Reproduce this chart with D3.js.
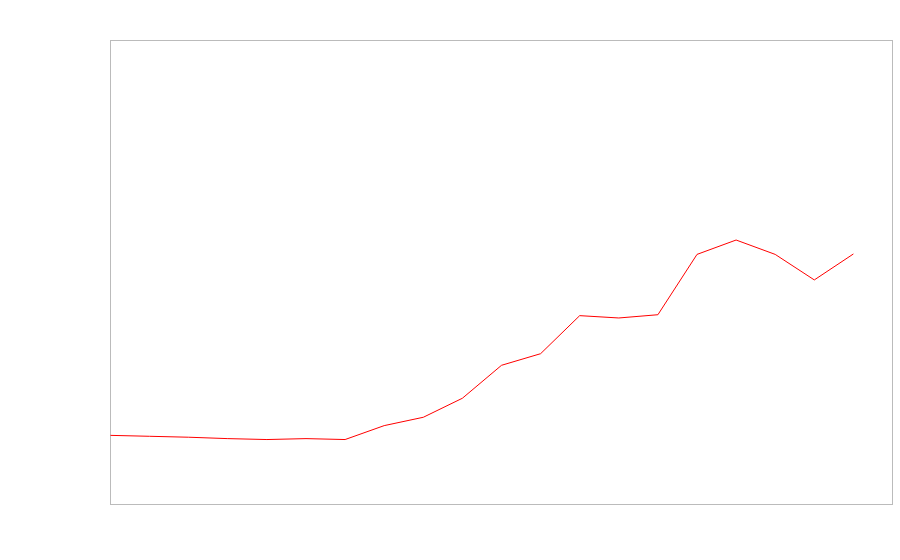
<!DOCTYPE html>
<html>
<head>
<meta charset="utf-8">
<script src="https://cdn.jsdelivr.net/npm/d3@7"></script>
<style>
  html, body { margin: 0; padding: 0; background: #fff; }
  svg { display: block; }
</style>
</head>
<body>
<svg id="chart" width="900" height="560"></svg>
<script>
// Data (y scale 0..100)
const periods = d3.range(0, 20);
const values = [14.9, 14.7, 14.5, 14.2, 14.0, 14.2, 14.0, 17.0, 18.8, 22.9,
                30.0, 32.5, 40.7, 40.2, 40.9, 53.9, 57.0, 53.9, 48.4, 54.0];
const xDomain = [0, 20];
const yDomain = [0, 100];

const svg = d3.select("#chart");
const margin = { left: 110.5, top: 40.5, right: 7.5, bottom: 55.5 };
const W = 900, H = 560;
const x = d3.scaleLinear().domain(xDomain).range([margin.left, W - margin.right]);
const y = d3.scaleLinear().domain(yDomain).range([H - margin.bottom, margin.top]);

// frame
svg.append("rect")
  .attr("x", x(xDomain[0])).attr("y", y(yDomain[1]))
  .attr("width", x(xDomain[1]) - x(xDomain[0]))
  .attr("height", y(yDomain[0]) - y(yDomain[1]))
  .attr("fill", "none").attr("stroke", "#bbbbbb").attr("stroke-width", 1);

const data = periods.map((p, i) => ({ p, v: values[i] }));
svg.append("path")
  .datum(data)
  .attr("fill", "none")
  .attr("stroke", "red")
  .attr("stroke-width", 1)
  .attr("d", d3.line().x(d => x(d.p)).y(d => y(d.v)));
</script>
</body>
</html>
